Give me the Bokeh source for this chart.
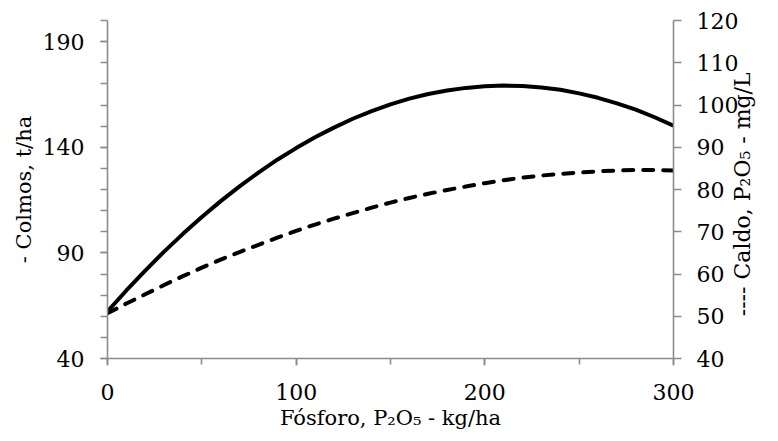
import math
from bokeh.plotting import figure
from bokeh.models import Range1d, LinearAxis, FixedTicker, ColumnDataSource
from bokeh.embed import file_html
from bokeh.resources import INLINE

# Data (x: P2O5 dose in kg/ha)
fosforo = [0, 10, 20, 30, 40, 50, 60, 70, 80, 90, 100, 110, 120, 130, 140, 150,
           160, 170, 180, 190, 200, 210, 220, 230, 240, 250, 260, 270, 280, 290, 300]
colmos = [62.3, 72.2, 81.6, 90.6, 99.0, 107.0, 114.5, 121.5, 128.0, 134.1, 139.6,
          144.7, 149.3, 153.5, 157.1, 160.3, 163.0, 165.2, 166.9, 168.1, 168.9,
          169.2, 169.0, 168.3, 167.2, 165.5, 163.4, 160.8, 157.8, 154.2, 150.2]
caldo = [50.7, 53.0, 55.2, 57.4, 59.5, 61.5, 63.4, 65.2, 66.9, 68.6, 70.2,
         71.7, 73.1, 74.4, 75.7, 76.9, 78.0, 79.0, 79.9, 80.7, 81.5,
         82.2, 82.8, 83.3, 83.7, 84.0, 84.3, 84.5, 84.6, 84.6, 84.5]

x_ticks = [0, 100, 200, 300]
x_minor = [0, 50, 100, 150, 200, 250, 300]
left_ticks = [40, 90, 140, 190]
left_minor = [40, 50, 60, 70, 80, 90, 100, 110, 120, 130, 140, 150, 160, 170, 180, 190, 200]
right_ticks = [40, 50, 60, 70, 80, 90, 100, 110, 120]

x_title = "Fósforo, P₂O₅ - kg/ha"
left_title = "- Colmos, t/ha"
right_title = "---- Caldo, P₂O₅ - mg/L"

FONT = "DejaVu Serif"
AXIS_COLOR = "#8c8c8c"

src = ColumnDataSource(dict(x=fosforo, colmos=colmos, caldo=caldo))

p = figure(width=770, height=436, output_backend="svg", toolbar_location=None,
           x_range=Range1d(0, 300), y_range=Range1d(40, 200),
           min_border_left=107, min_border_right=93, min_border_top=20, min_border_bottom=78)
p.extra_y_ranges = {"right": Range1d(40, 120)}
p.outline_line_color = None
p.xgrid.visible = False
p.ygrid.visible = False
p.background_fill_color = "white"
p.border_fill_color = "white"

p.line("x", "colmos", source=src, line_color="black", line_width=4)
p.line("x", "caldo", source=src, y_range_name="right", line_color="black",
       line_width=4, line_dash="10 10", line_cap="round")

right = LinearAxis(y_range_name="right")
p.add_layout(right, "right")

def style(ax):
    ax.axis_line_color = AXIS_COLOR
    ax.axis_line_width = 1.6
    ax.major_tick_line_color = AXIS_COLOR
    ax.minor_tick_line_color = AXIS_COLOR
    ax.major_tick_line_width = 1.6
    ax.minor_tick_line_width = 1.6
    ax.major_tick_in = 0
    ax.minor_tick_in = 0
    ax.major_label_text_font = FONT
    ax.major_label_text_font_size = "22px"
    ax.major_label_text_color = "black"
    ax.axis_label_text_font = FONT
    ax.axis_label_text_font_size = "21px"
    ax.axis_label_text_font_style = "normal"
    ax.axis_label_text_color = "black"

xa = p.xaxis[0]
style(xa)
xa.ticker = FixedTicker(ticks=x_ticks, minor_ticks=x_minor)
xa.major_tick_out = 7
xa.minor_tick_out = 6
xa.major_label_standoff = 18
xa.axis_label = x_title
xa.axis_label_standoff = 3

ya = p.yaxis[0]
style(ya)
ya.ticker = FixedTicker(ticks=left_ticks, minor_ticks=left_minor)
ya.major_tick_out = 7
ya.minor_tick_out = 7
ya.major_label_standoff = 16
ya.axis_label = left_title
ya.axis_label_standoff = 4

style(right)
right.ticker = FixedTicker(ticks=right_ticks, minor_ticks=[])
right.major_tick_out = 8
right.minor_tick_out = 0
right.major_label_standoff = 15

# right-hand title drawn as the single rotated label of an extra, line-less axis
title_axis = LinearAxis(y_range_name="right")
style(title_axis)
title_axis.axis_line_color = None
title_axis.major_tick_line_color = None
title_axis.minor_tick_line_color = None
title_axis.major_label_text_font_size = "22px"
title_axis.ticker = FixedTicker(ticks=[50], minor_ticks=[])
title_axis.major_label_overrides = {50: right_title}
title_axis.major_label_orientation = math.pi / 2
title_axis.major_tick_out = 0
title_axis.major_label_standoff = 1
p.add_layout(title_axis, "right")

open("out.html", "w").write(file_html(p, INLINE))
